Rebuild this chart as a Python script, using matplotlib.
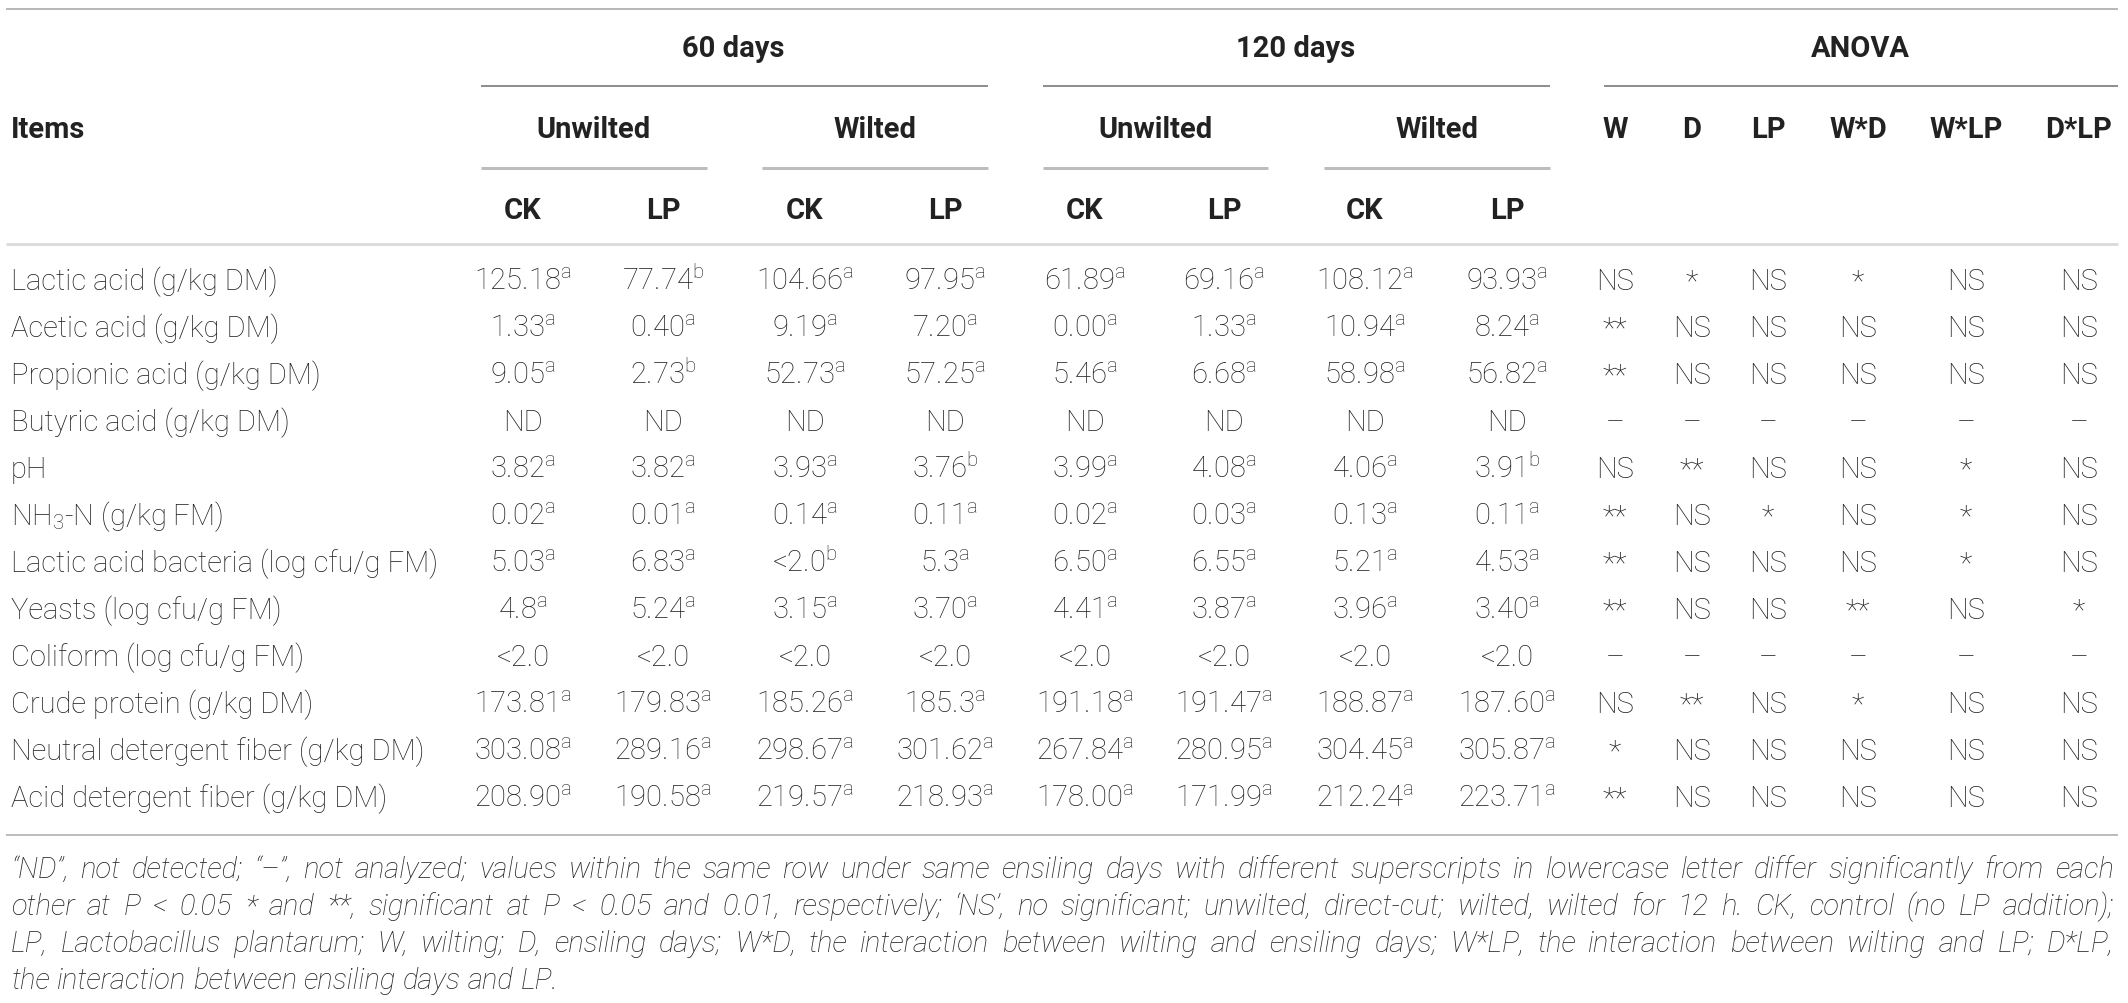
"""Silage fermentation quality table redrawn with matplotlib text and rules."""

import matplotlib

matplotlib.use("Agg")
import matplotlib.pyplot as plt

plt.rcParams["font.family"] = ["Roboto", "DejaVu Sans"]
plt.rcParams["mathtext.fontset"] = "custom"
plt.rcParams["mathtext.rm"] = "Roboto:light"
plt.rcParams["mathtext.it"] = "Roboto:light:italic"

# ---- data -----------------------------------------------------------------
items = [
    "Lactic acid (g/kg DM)",
    "Acetic acid (g/kg DM)",
    "Propionic acid (g/kg DM)",
    "Butyric acid (g/kg DM)",
    "pH",
    "NH$_{3}$-N (g/kg FM)",
    "Lactic acid bacteria (log cfu/g FM)",
    "Yeasts (log cfu/g FM)",
    "Coliform (log cfu/g FM)",
    "Crude protein (g/kg DM)",
    "Neutral detergent fiber (g/kg DM)",
    "Acid detergent fiber (g/kg DM)",
]

# (value, superscript letter)
d60_unwilted_ck = [("125.18", "a"), ("1.33", "a"), ("9.05", "a"), ("ND", ""), ("3.82", "a"), ("0.02", "a"),
                   ("5.03", "a"), ("4.8", "a"), ("<2.0", ""), ("173.81", "a"), ("303.08", "a"), ("208.90", "a")]
d60_unwilted_lp = [("77.74", "b"), ("0.40", "a"), ("2.73", "b"), ("ND", ""), ("3.82", "a"), ("0.01", "a"),
                   ("6.83", "a"), ("5.24", "a"), ("<2.0", ""), ("179.83", "a"), ("289.16", "a"), ("190.58", "a")]
d60_wilted_ck = [("104.66", "a"), ("9.19", "a"), ("52.73", "a"), ("ND", ""), ("3.93", "a"), ("0.14", "a"),
                 ("<2.0", "b"), ("3.15", "a"), ("<2.0", ""), ("185.26", "a"), ("298.67", "a"), ("219.57", "a")]
d60_wilted_lp = [("97.95", "a"), ("7.20", "a"), ("57.25", "a"), ("ND", ""), ("3.76", "b"), ("0.11", "a"),
                 ("5.3", "a"), ("3.70", "a"), ("<2.0", ""), ("185.3", "a"), ("301.62", "a"), ("218.93", "a")]
d120_unwilted_ck = [("61.89", "a"), ("0.00", "a"), ("5.46", "a"), ("ND", ""), ("3.99", "a"), ("0.02", "a"),
                    ("6.50", "a"), ("4.41", "a"), ("<2.0", ""), ("191.18", "a"), ("267.84", "a"), ("178.00", "a")]
d120_unwilted_lp = [("69.16", "a"), ("1.33", "a"), ("6.68", "a"), ("ND", ""), ("4.08", "a"), ("0.03", "a"),
                    ("6.55", "a"), ("3.87", "a"), ("<2.0", ""), ("191.47", "a"), ("280.95", "a"), ("171.99", "a")]
d120_wilted_ck = [("108.12", "a"), ("10.94", "a"), ("58.98", "a"), ("ND", ""), ("4.06", "a"), ("0.13", "a"),
                  ("5.21", "a"), ("3.96", "a"), ("<2.0", ""), ("188.87", "a"), ("304.45", "a"), ("212.24", "a")]
d120_wilted_lp = [("93.93", "a"), ("8.24", "a"), ("56.82", "a"), ("ND", ""), ("3.91", "b"), ("0.11", "a"),
                  ("4.53", "a"), ("3.40", "a"), ("<2.0", ""), ("187.60", "a"), ("305.87", "a"), ("223.71", "a")]

anova_labels = ["W", "D", "LP", "W*D", "W*LP", "D*LP"]
anova_w = ["NS", "**", "**", "–", "NS", "**", "**", "**", "–", "NS", "*", "**"]
anova_d = ["*", "NS", "NS", "–", "**", "NS", "NS", "NS", "–", "**", "NS", "NS"]
anova_lp = ["NS", "NS", "NS", "–", "NS", "*", "NS", "NS", "–", "NS", "NS", "NS"]
anova_wd = ["*", "NS", "NS", "–", "NS", "NS", "NS", "**", "–", "*", "NS", "NS"]
anova_wlp = ["NS", "NS", "NS", "–", "*", "*", "*", "NS", "–", "NS", "NS", "NS"]
anova_dlp = ["NS", "NS", "NS", "–", "NS", "NS", "NS", "*", "–", "NS", "NS", "NS"]

footnote_lines = [
    "“ND”, not detected; “–”, not analyzed; values within the same row under same ensiling days with "
    "different superscripts in lowercase letter differ significantly from each",
    "other at P < 0.05 * and **, significant at P < 0.05 and 0.01, respectively; ‘NS’, no significant; "
    "unwilted, direct-cut; wilted, wilted for 12 h. CK, control (no LP addition);",
    "LP, Lactobacillus plantarum; W, wilting; D, ensiling days; W*D, the interaction between wilting and "
    "ensiling days; W*LP, the interaction between wilting and LP; D*LP,",
    "the interaction between ensiling days and LP.",
]

# ---- layout (pixels) ------------------------------------------------------
W, H = 2128, 1004
TXT = "#222222"
FS = 21
value_cols = [d60_unwilted_ck, d60_unwilted_lp, d60_wilted_ck, d60_wilted_lp,
              d120_unwilted_ck, d120_unwilted_lp, d120_wilted_ck, d120_wilted_lp]
value_x = [523, 663, 805, 945, 1085, 1224, 1365, 1507]
anova_cols = [anova_w, anova_d, anova_lp, anova_wd, anova_wlp, anova_dlp]
anova_x = [1615, 1692, 1768, 1858, 1966, 2079]
row_y0, row_dy = 280, 47
base_off = 10  # centre -> baseline

fig = plt.figure(figsize=(W / 100, H / 100), dpi=100)
ax = fig.add_axes([0, 0, 1, 1])
ax.set_xlim(0, W)
ax.set_ylim(H, 0)
ax.axis("off")


def rule(y, x0, x1, color, px):
    ax.plot([x0, x1], [y, y], color=color, lw=px * 0.72, solid_capstyle="butt")


def bold(x, y, s, ha="center"):
    ax.text(x, y + base_off, s, ha=ha, va="baseline", fontsize=FS, fontweight="bold", color=TXT)


# rules
rule(10, 6, 2118, "#b8b8b8", 2)
rule(87, 481, 988, "#6a6a6a", 1.5)
rule(87, 1043, 1550, "#6a6a6a", 1.5)
rule(87, 1604, 2118, "#6a6a6a", 1.5)
for x0, x1 in [(481, 707), (762, 988), (1043, 1268), (1324, 1550)]:
    rule(169, x0, x1, "#bdbdbd", 3)
rule(245, 6, 2118, "#dcdcdc", 3)
rule(836, 6, 2118, "#bdbdbd", 2)

# headers
bold(733, 47, "60 days")
bold(1296, 47, "120 days")
bold(1860, 47, "ANOVA")
bold(11, 128, "Items", ha="left")
for x, s in zip([593, 875, 1155, 1437], ["Unwilted", "Wilted", "Unwilted", "Wilted"]):
    bold(x, 128, s)
for x, s in zip(value_x, ["CK", "LP"] * 4):
    bold(x, 209, s)
for x, s in zip(anova_x, anova_labels):
    bold(x, 128, s)

# body
for i, name in enumerate(items):
    y = row_y0 + i * row_dy + base_off
    ax.text(11, y, name, ha="left", va="baseline", fontsize=FS, fontweight="light", color=TXT)
    for x, col in zip(value_x, value_cols):
        v, sup = col[i]
        s = v + (r"$^{\mathrm{%s}}$" % sup if sup else "")
        ax.text(x, y, s, ha="center", va="baseline", fontsize=FS, fontweight="light", color=TXT)
    for x, col in zip(anova_x, anova_cols):
        ax.text(x, y, col[i], ha="center", va="baseline", fontsize=FS, fontweight="light", color=TXT)

# footnote, justified between fx0 and fx1
fig.canvas.draw()
renderer = fig.canvas.get_renderer()
fx0, fx1 = 11, 2114
foot_y = [868, 905, 942, 979]
kw = dict(va="baseline", fontsize=FS, fontweight="light", fontstyle="italic", color=TXT)
probe1 = ax.text(W / 2, H / 2, "a a", **kw)
probe2 = ax.text(W / 2, H / 2, "aa", **kw)
sp = probe1.get_window_extent(renderer).width - probe2.get_window_extent(renderer).width
probe1.remove()
probe2.remove()
for j, (line, y) in enumerate(zip(footnote_lines, foot_y)):
    words = line.split(" ")
    texts = [ax.text(0, y + base_off, w, ha="left", **kw) for w in words]
    widths = [t.get_window_extent(renderer).width for t in texts]
    last = j == len(footnote_lines) - 1
    gap = sp if last else (fx1 - fx0 - sum(widths)) / (len(words) - 1)
    x = fx0
    for t, wd in zip(texts, widths):
        t.set_x(x)
        x += wd + gap

fig.savefig("out.png", dpi=100)
plt.close(fig)
